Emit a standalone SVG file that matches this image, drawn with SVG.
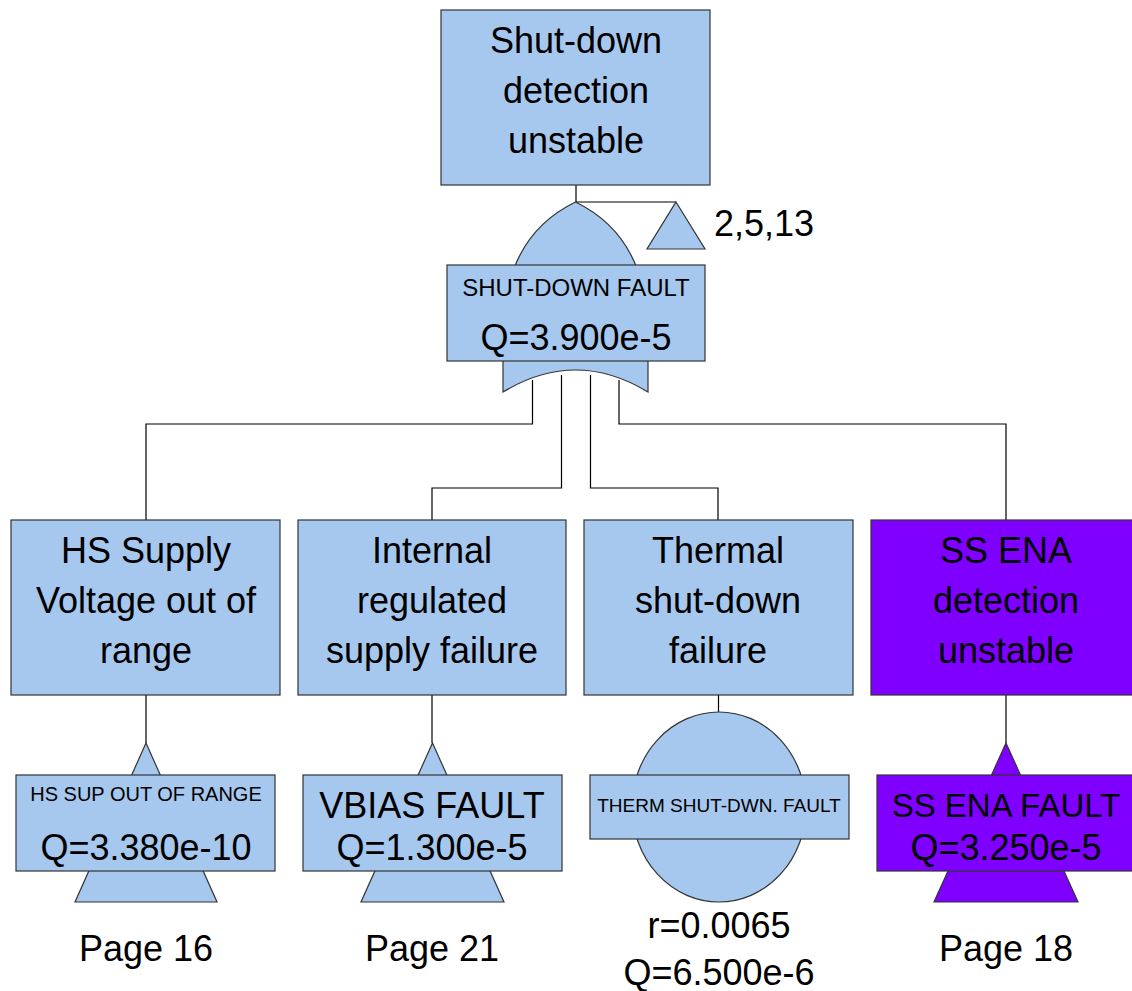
<svg xmlns="http://www.w3.org/2000/svg" width="1132" height="991" viewBox="0 0 1132 991">
<style>
.bg{fill:#ffffff}
.box{fill:#a6c8ee;stroke:#333333;stroke-width:1.2}
.pbox{fill:#7f00ff;stroke:#333333;stroke-width:1.2}
.ln{fill:none;stroke:#000000;stroke-width:1.2}
text{font-family:"Liberation Sans",Arial,sans-serif;fill:#000000;text-anchor:middle}
.big{font-size:36px}
.sm{font-size:20px}
</style>
<rect class="bg" x="0" y="0" width="1132" height="991"/>
<g id="connectors">
<path class="ln" d="M576 185 V202 H676"/>
<path class="ln" d="M532.5 380 V424 H146 V520"/>
<path class="ln" d="M561.5 375 V488 H432 V520"/>
<path class="ln" d="M590.5 375 V488 H718 V520"/>
<path class="ln" d="M619 380 V424 H1006 V520"/>
<path class="ln" d="M146 695 V743"/>
<path class="ln" d="M432 695 V743"/>
<path class="ln" d="M718.5 695 V712"/>
<path class="ln" d="M1006 695 V743"/>
</g>
<g id="top">
<rect class="box" x="441" y="10" width="269" height="175"/>
<text class="big" x="576" y="53">Shut-down</text>
<text class="big" x="576" y="103">detection</text>
<text class="big" x="576" y="153">unstable</text>
</g>
<g id="transfer-top">
<polygon class="box" points="676,202 705,249 647,249"/>
<text class="big" x="764" y="236">2,5,13</text>
</g>
<g id="gate">
<path class="box" d="M503 392 L503 335 C503 272 526 226 575.5 202 C625 226 648 272 648 335 L648 392 Q575.5 348 503 392 Z"/>
<rect class="box" x="447" y="265" width="258" height="96"/>
<text x="576" y="296" style="font-size:24px">SHUT-DOWN FAULT</text>
<text class="big" x="576" y="350">Q=3.900e-5</text>
</g>
<g id="hs">
<rect class="box" x="11" y="520" width="269" height="175"/>
<text class="big" x="146" y="563">HS Supply</text>
<text class="big" x="146" y="613">Voltage out of</text>
<text class="big" x="146" y="663">range</text>
</g>
<g id="hs-event">
<polygon class="box" points="146,743 217,902 75,902"/>
<rect class="box" x="16" y="775" width="259" height="96"/>
<text class="sm" x="146" y="801">HS SUP OUT OF RANGE</text>
<text class="big" x="146" y="860">Q=3.380e-10</text>
<text class="big" x="146" y="961">Page 16</text>
</g>
<g id="internal">
<rect class="box" x="298" y="520" width="268" height="175"/>
<text class="big" x="432" y="563">Internal</text>
<text class="big" x="432" y="613">regulated</text>
<text class="big" x="432" y="663">supply failure</text>
</g>
<g id="vbias-event">
<polygon class="box" points="432.5,743 504,902 361,902"/>
<rect class="box" x="303" y="775" width="259" height="96"/>
<text class="big" x="432" y="818">VBIAS FAULT</text>
<text class="big" x="432" y="860">Q=1.300e-5</text>
<text class="big" x="432" y="961">Page 21</text>
</g>
<g id="thermal">
<rect class="box" x="584" y="520" width="269" height="175"/>
<text class="big" x="718" y="563">Thermal</text>
<text class="big" x="718" y="613">shut-down</text>
<text class="big" x="718" y="663">failure</text>
</g>
<g id="therm-event">
<ellipse class="box" cx="719" cy="807" rx="87" ry="95"/>
<rect class="box" x="590" y="775" width="259" height="64"/>
<text x="719" y="812" style="font-size:19px">THERM SHUT-DWN. FAULT</text>
<text class="big" x="719" y="938">r=0.0065</text>
<text class="big" x="719" y="985">Q=6.500e-6</text>
</g>
<g id="ssena">
<rect class="pbox" x="871" y="520" width="270" height="175"/>
<text class="big" x="1006" y="563">SS ENA</text>
<text class="big" x="1006" y="613">detection</text>
<text class="big" x="1006" y="663">unstable</text>
</g>
<g id="ssena-event">
<polygon class="pbox" points="1006,743 1078,902 934,902"/>
<rect class="pbox" x="877" y="775" width="260" height="96"/>
<text x="1006" y="817" style="font-size:33px">SS ENA FAULT</text>
<text class="big" x="1006" y="860">Q=3.250e-5</text>
<text class="big" x="1006" y="961">Page 18</text>
</g>
</svg>
